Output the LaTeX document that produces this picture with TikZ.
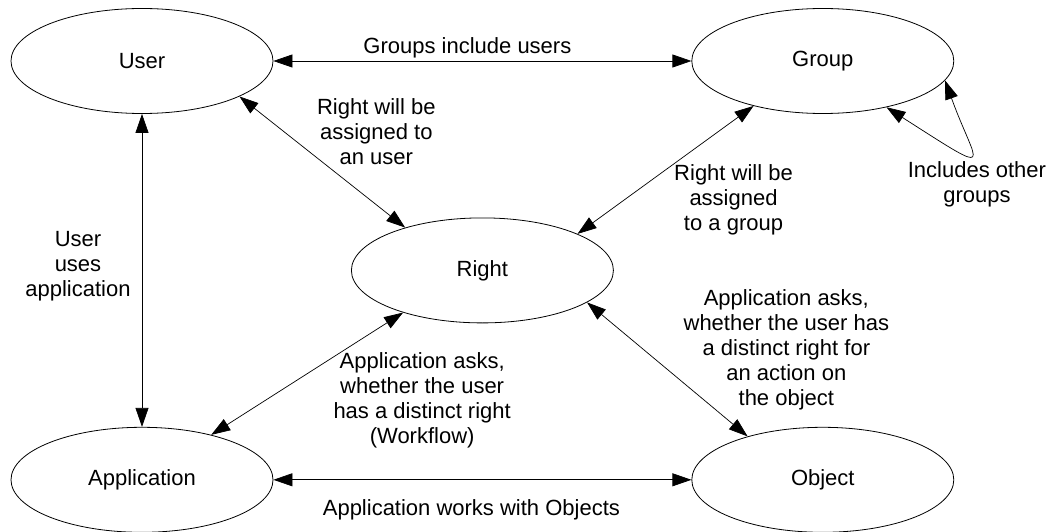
\documentclass[tikz,border=0pt]{standalone}
\usepackage{fontspec}
\setmainfont{Liberation Sans}
\usetikzlibrary{positioning,arrows.meta,shapes,calc}
\tikzset{
  entity/.style={ellipse, draw=black, line width=0.8pt,
    minimum width=262pt, minimum height=105pt, inner sep=0pt},
  relation/.style={draw=black, line width=0.7pt,
    >={Triangle[length=19pt,width=13pt]}, <->},
  note/.style={align=center}
}

\begin{document}
\begin{tikzpicture}[x=1pt, y=-1pt, node distance=313pt and 418pt,
    font=\fontsize{22pt}{25pt}\selectfont]
    \useasboundingbox (0,0) rectangle (1050,532);

    \node[entity] (user) at (142,61) {User};
    \node[entity, right=of user] (group) {Group};
    \node[entity, below=of user] (app) {Application};
    \node[entity, below=of group] (object) {Object};
    \node[entity] (right) at ($(user)!0.5!(object)$) {Right};

    \draw[relation] (user) -- node[xshift=-15pt, yshift=13pt] {Groups include users} (group);
    \draw[relation] (user) -- node[note, xshift=-64pt, yshift=4pt] {User\\uses\\application} (app);
    \draw[relation] (user.-20) -- node[note, xshift=54pt, yshift=30pt] {Right will be\\assigned to\\an user} (right.151);
    \draw[relation] (group.213) -- node[note, xshift=68pt, yshift=-30pt] {Right will be\\assigned\\to a group} (right.21);
    \draw[relation] (right.208) -- node[note, xshift=115pt, yshift=-27pt] {Application asks,\\whether the user\\has a distinct right\\(Workflow)} (app.33);
    \draw[relation] (right.-17) -- node[note, xshift=119pt, yshift=20pt] {Application asks,\\whether the user has\\a distinct right for\\an action on\\the object} (object.150);
    \draw[relation] (app) -- node[xshift=-11pt, yshift=-30pt] {Application works with Objects} (object);
    \draw[relation] (group.-36) .. controls (1000,180) and (976,166) .. (group.-9)
      node[note, pos=0.5, xshift=7pt, yshift=-31pt] {Includes other\\groups};
\end{tikzpicture}
\end{document}
